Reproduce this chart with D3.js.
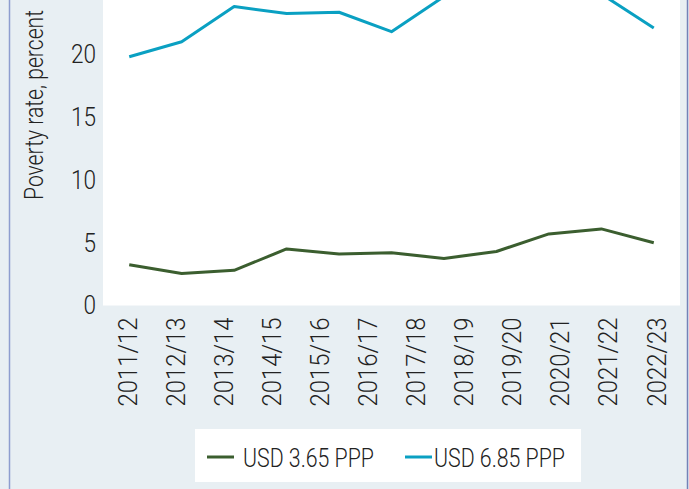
<!DOCTYPE html>
<html>
<head>
<meta charset="utf-8">
<script src="https://cdn.jsdelivr.net/npm/d3@7"></script>
<style>
  body { margin: 0; background: #e8eff3; }
  svg { display: block; }
  text { font-family: Roboto, "Liberation Sans", sans-serif; font-weight: 300; fill: #222; }
</style>
</head>
<body>
<svg width="689" height="489"></svg>
<script>
// tick labels along the bottom
var years = ["2011/12", "2012/13", "2013/14", "2014/15", "2015/16", "2016/17",
             "2017/18", "2018/19", "2019/20", "2020/21", "2021/22", "2022/23"];

// poverty rates, percent (11 points per line, as drawn in the source)
var usd365 = [3.25, 2.55, 2.8, 4.5, 4.1, 4.2, 3.75, 4.3, 5.7, 6.1, 5.0];
var usd685 = [19.8, 21.0, 23.8, 23.25, 23.35, 21.8, 24.6, 25.6, 26.0, 24.8, 22.1];

var seriesNames = ["USD 3.65 PPP", "USD 6.85 PPP"];
var seriesColors = ["#3b5e2f", "#0aa0c2"];

var svg = d3.select("svg");

// outer frame lines
svg.append("line").attr("x1", 9.5).attr("x2", 9.5).attr("y1", 0).attr("y2", 489)
  .attr("stroke", "#8d9dcf").attr("stroke-width", 1.5);
svg.append("line").attr("x1", 687.5).attr("x2", 687.5).attr("y1", 0).attr("y2", 489)
  .attr("stroke", "#7482b8").attr("stroke-width", 1.5);

var left = 103, right = 680, bottom = 305.5;

var y = d3.scaleLinear().domain([0, 30]).range([bottom, bottom - 30 * 12.56]);
var xLab = d3.scalePoint().domain(years).range([left, right]).padding(0.5);
var xPt = d3.scalePoint().domain(d3.range(usd365.length)).range([left, right]).padding(0.5);

// white plot area
svg.append("rect").attr("x", left).attr("y", y(30)).attr("width", right - left)
  .attr("height", bottom - y(30)).attr("fill", "#fff");

// y axis
var yAxis = svg.append("g").attr("transform", "translate(" + left + ",0)")
  .call(d3.axisLeft(y).tickValues([0, 5, 10, 15, 20]).tickSize(0).tickPadding(7));
yAxis.select(".domain").remove();
yAxis.selectAll("text").style("font-size", "26px").style("font-family", null).attr("fill", "#222")
  .attr("textLength", function(d) { return String(d).length * 12.5; })
  .attr("lengthAdjust", "spacingAndGlyphs");

// x axis, rotated labels
var xAxis = svg.append("g").attr("transform", "translate(0," + bottom + ")")
  .call(d3.axisBottom(xLab).tickSize(0).tickPadding(0));
xAxis.select(".domain").remove();
xAxis.selectAll("text")
  .style("font-size", "26px").style("font-family", null).attr("fill", "#222")
  .attr("text-anchor", "end")
  .attr("transform", "rotate(-90)")
  .attr("x", -12).attr("y", 0).attr("dy", "0.35em")
  .attr("textLength", 89).attr("lengthAdjust", "spacingAndGlyphs");

// axis title
svg.append("text")
  .attr("transform", "translate(43,200) rotate(-90)")
  .attr("text-anchor", "start")
  .style("font-size", "25px")
  .attr("textLength", 190).attr("lengthAdjust", "spacingAndGlyphs")
  .text("Poverty rate, percent");

// lines
var line = d3.line().x(function(d, i) { return xPt(i); }).y(function(d) { return y(d); });
[usd365, usd685].forEach(function(vals, k) {
  svg.append("path").datum(vals)
    .attr("fill", "none")
    .attr("stroke", seriesColors[k])
    .attr("stroke-width", 3)
    .attr("stroke-linejoin", "round")
    .attr("d", line);
});

// legend
var lg = svg.append("g");
lg.append("rect").attr("x", 195).attr("y", 429).attr("width", 386).attr("height", 53).attr("fill", "#fff");
var legX = [207, 405];
seriesNames.forEach(function(name, k) {
  lg.append("line").attr("x1", legX[k]).attr("x2", legX[k] + 27)
    .attr("y1", 457).attr("y2", 457)
    .attr("stroke", seriesColors[k]).attr("stroke-width", 3);
  lg.append("text").attr("x", legX[k] + (k == 0 ? 36 : 29)).attr("y", 467)
    .style("font-size", "26px")
    .attr("textLength", 131).attr("lengthAdjust", "spacingAndGlyphs")
    .text(name);
});
</script>
</body>
</html>
